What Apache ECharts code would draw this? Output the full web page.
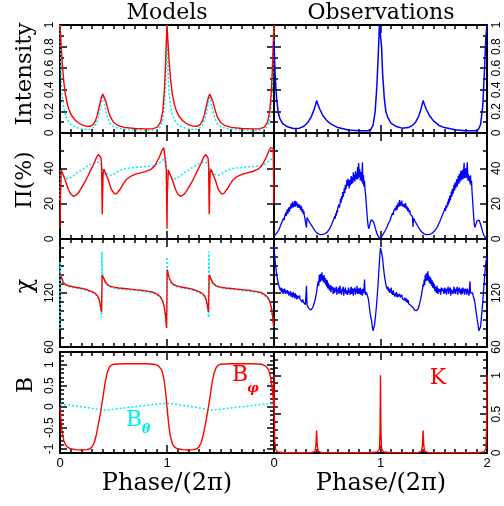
<!DOCTYPE html>
<html><head><meta charset="utf-8">
<script src="https://cdn.jsdelivr.net/npm/echarts@6/dist/echarts.min.js"></script>
<style>html,body{margin:0;padding:0;background:#fff}#c{width:504px;height:506px}</style>
</head><body><div id="c"></div><script>
// ---------------- DATA ----------------
// Model intensity (phase, I)
const intModelRed = [[0,1.0],[0.01,0.83],[0.02,0.66],[0.035,0.48],[0.05,0.36],[0.07,0.26],[0.09,0.2],[0.11,0.16],[0.14,0.12],[0.17,0.095],[0.2,0.077],[0.24,0.064],[0.28,0.062],[0.31,0.077],[0.33,0.11],[0.35,0.17],[0.37,0.26],[0.39,0.34],[0.40,0.36],[0.41,0.35],[0.43,0.29],[0.45,0.21],[0.47,0.15],[0.5,0.1],[0.54,0.07],[0.6,0.052],[0.7,0.042],[0.8,0.038],[0.87,0.04],[0.91,0.055],[0.94,0.1],[0.96,0.2],[0.975,0.38],[0.985,0.6],[0.995,0.88],[1.0,1.0],
[1.01,0.83],[1.02,0.66],[1.035,0.48],[1.05,0.36],[1.07,0.26],[1.09,0.2],[1.11,0.16],[1.14,0.12],[1.17,0.095],[1.2,0.077],[1.24,0.064],[1.28,0.062],[1.31,0.077],[1.33,0.11],[1.35,0.17],[1.37,0.26],[1.39,0.34],[1.40,0.36],[1.41,0.35],[1.43,0.29],[1.45,0.21],[1.47,0.15],[1.5,0.1],[1.54,0.07],[1.6,0.052],[1.7,0.042],[1.8,0.038],[1.87,0.04],[1.91,0.055],[1.94,0.1],[1.96,0.2],[1.975,0.38],[1.985,0.6],[1.995,0.88],[2.0,1.0]];
const intModelCyan = [[0,1.0],[0.005,0.75],[0.012,0.5],[0.02,0.36],[0.035,0.24],[0.05,0.17],[0.07,0.12],[0.1,0.08],[0.14,0.055],[0.2,0.037],[0.26,0.03],[0.3,0.04],[0.33,0.07],[0.355,0.13],[0.375,0.22],[0.39,0.3],[0.4,0.33],[0.41,0.3],[0.425,0.22],[0.445,0.14],[0.47,0.085],[0.5,0.06],[0.55,0.042],[0.65,0.03],[0.8,0.022],[0.9,0.028],[0.94,0.06],[0.96,0.12],[0.975,0.25],[0.988,0.5],[0.995,0.75],[1.0,1.0],
[1.005,0.75],[1.012,0.5],[1.02,0.36],[1.035,0.24],[1.05,0.17],[1.07,0.12],[1.1,0.08],[1.14,0.055],[1.2,0.037],[1.26,0.03],[1.3,0.04],[1.33,0.07],[1.355,0.13],[1.375,0.22],[1.39,0.3],[1.4,0.33],[1.41,0.3],[1.425,0.22],[1.445,0.14],[1.47,0.085],[1.5,0.06],[1.55,0.042],[1.65,0.03],[1.8,0.022],[1.9,0.028],[1.94,0.06],[1.96,0.12],[1.975,0.25],[1.988,0.5],[1.995,0.75],[2.0,1.0]];
// Observed intensity
const intObs = [[0,0.85],[0.01,0.55],[0.025,0.31],[0.04,0.19],[0.056,0.13],[0.08,0.09],[0.12,0.06],[0.18,0.042],[0.24,0.045],[0.28,0.062],[0.32,0.1],[0.35,0.15],[0.37,0.2],[0.39,0.26],[0.4,0.3],[0.41,0.27],[0.43,0.22],[0.46,0.16],[0.5,0.11],[0.54,0.08],[0.6,0.05],[0.7,0.028],[0.8,0.02],[0.88,0.02],[0.91,0.035],[0.93,0.07],[0.95,0.2],[0.965,0.42],[0.978,0.7],[0.99,1.0],[1.0,1.0],[1.01,0.8],[1.02,0.55],[1.035,0.33],[1.05,0.2],[1.07,0.14],[1.1,0.09],[1.15,0.06],[1.2,0.045],[1.26,0.05],[1.3,0.07],[1.33,0.1],[1.36,0.16],[1.38,0.22],[1.4,0.3],[1.41,0.27],[1.43,0.22],[1.46,0.16],[1.5,0.11],[1.55,0.07],[1.6,0.05],[1.7,0.03],[1.8,0.02],[1.9,0.02],[1.92,0.035],[1.94,0.08],[1.96,0.25],[1.975,0.55],[1.99,0.9],[2.0,1.0]];
// Model polarization degree (%)
const polModelRed = [[0,6],[0.005,25],[0.012,39],[0.02,38],[0.047,33.7],[0.078,28],[0.1,25.5],[0.125,24.2],[0.15,24.8],[0.17,26],[0.2,29],[0.23,32],[0.26,35.5],[0.29,39.4],[0.32,43],[0.34,46],[0.36,47.8],[0.372,48],[0.383,46],[0.389,42],[0.392,25],[0.395,14],[0.398,25],[0.403,37],[0.41,39.5],[0.42,38],[0.45,33.7],[0.48,28],[0.51,25.5],[0.53,25.7],[0.56,28],[0.59,31],[0.62,33.7],[0.66,35.5],[0.7,36.6],[0.75,37.4],[0.79,38],[0.85,39.4],[0.88,41],[0.9,43],[0.93,46.5],[0.95,49.7],[0.97,51.8],[0.98,52.5],[0.988,51],[0.993,40],[0.997,20],[1.0,6],
[1.003,25],[1.012,39],[1.02,38],[1.05,33.5],[1.08,28],[1.1,25.5],[1.125,24.2],[1.15,24.8],[1.17,26],[1.2,29],[1.23,32],[1.26,35.5],[1.29,39.4],[1.32,43],[1.34,46],[1.36,47.8],[1.372,48],[1.383,46],[1.389,42],[1.392,25],[1.395,14],[1.398,25],[1.403,37],[1.41,39.5],[1.42,38],[1.45,33.7],[1.48,28],[1.51,25.5],[1.53,25.7],[1.56,28],[1.59,31],[1.62,33.7],[1.66,35.5],[1.7,36.6],[1.75,37.4],[1.8,38.2],[1.85,39.5],[1.88,41],[1.9,43],[1.93,46.5],[1.95,49.7],[1.97,51.8],[1.985,52.8],[1.993,51],[2.0,20]];
const polModelCyan = [[0,22],[0.006,39],[0.02,37],[0.05,34.5],[0.08,34],[0.12,35.5],[0.16,37.5],[0.2,39],[0.25,41],[0.3,42.8],[0.35,43.5],[0.38,43],[0.389,41],[0.393,33],[0.397,40],[0.41,39.2],[0.44,37],[0.47,36],[0.5,36.5],[0.55,38.5],[0.6,39.8],[0.7,40.5],[0.8,41],[0.88,41.5],[0.93,43],[0.97,45],[0.99,46],[0.997,40],[1.0,30],
[1.006,39],[1.02,37],[1.05,34.5],[1.08,34],[1.12,35.5],[1.16,37.5],[1.2,39],[1.25,41],[1.3,42.8],[1.35,43.5],[1.38,43],[1.389,41],[1.393,33],[1.397,40],[1.41,39.2],[1.44,37],[1.47,36],[1.5,36.5],[1.55,38.5],[1.6,39.8],[1.7,40.5],[1.8,41],[1.88,41.5],[1.93,43],[1.97,45],[2.0,46]];
// Model polarization angle chi (deg)
const paModelRed = [[0,142],[0.005,140],[0.015,137],[0.03,132],[0.05,129.5],[0.08,128],[0.12,127],[0.17,125.9],[0.22,124.8],[0.26,123.3],[0.3,121.5],[0.33,119.6],[0.35,117],[0.365,113],[0.375,108],[0.383,102],[0.388,99],[0.391,118],[0.394,140],[0.4,138.5],[0.41,136],[0.43,131],[0.46,128],[0.5,126.5],[0.55,125.5],[0.6,125],[0.66,124.3],[0.72,123.5],[0.78,122.7],[0.84,121.5],[0.88,120.5],[0.91,118.5],[0.94,115.5],[0.96,111],[0.975,104],[0.987,94],[0.996,81],[0.999,110],
[1.002,146],[1.01,142],[1.02,137],[1.04,132],[1.06,129.5],[1.09,128],[1.12,127],[1.17,125.9],[1.22,124.8],[1.26,123.3],[1.3,121.5],[1.33,119.6],[1.35,117],[1.365,113],[1.375,108],[1.383,102],[1.388,99],[1.391,118],[1.394,140],[1.4,138.5],[1.41,136],[1.43,131],[1.46,128],[1.5,126.5],[1.55,125.5],[1.6,125],[1.66,124.3],[1.72,123.5],[1.78,122.7],[1.84,121.5],[1.88,120.5],[1.91,118.5],[1.94,115.5],[1.96,111],[1.975,104],[1.987,94],[1.996,83]];
const paModelCyan = [[0,80],[0.001,155],[0.006,142],[0.015,136],[0.03,131],[0.05,128.5],[0.08,127],[0.12,126],[0.17,125],[0.22,124],[0.26,122.5],[0.3,120.5],[0.33,118.5],[0.35,116],[0.365,112],[0.375,106],[0.383,99],[0.389,93],[0.391,166],[0.395,146],[0.4,140],[0.41,135],[0.43,130],[0.46,127],[0.5,125.5],[0.55,124.5],[0.6,124],[0.66,123.3],[0.72,122.5],[0.78,121.7],[0.84,120.5],[0.88,119.5],[0.91,117.5],[0.94,114.5],[0.96,110],[0.975,103],[0.987,92],[0.997,81],
[0.999,160],[1.004,148],[1.01,141],[1.02,136],[1.04,131],[1.06,128.5],[1.09,127],[1.12,126],[1.17,125],[1.22,124],[1.26,122.5],[1.3,120.5],[1.33,118.5],[1.35,116],[1.365,112],[1.375,106],[1.383,99],[1.389,93],[1.391,166],[1.395,146],[1.4,140],[1.41,135],[1.43,130],[1.46,127],[1.5,125.5],[1.55,124.5],[1.6,124],[1.66,123.3],[1.72,122.5],[1.78,121.7],[1.84,120.5],[1.88,119.5],[1.91,117.5],[1.94,114.5],[1.96,110],[1.975,103],[1.987,92],[1.997,80]];
// Model magnetic field components
const bPhi = [[0,0],[0.01,-0.35],[0.02,-0.6],[0.035,-0.8],[0.05,-0.9],[0.07,-0.96],[0.1,-1.0],[0.15,-1.02],[0.2,-1.03],[0.25,-1.02],[0.28,-1.0],[0.3,-0.95],[0.32,-0.85],[0.34,-0.66],[0.36,-0.4],[0.38,-0.12],[0.4,0.2],[0.42,0.55],[0.44,0.8],[0.46,0.93],[0.48,0.99],[0.5,1.01],[0.6,1.02],[0.7,1.02],[0.8,1.02],[0.88,1.01],[0.92,0.97],[0.95,0.88],[0.97,0.68],[0.985,0.4],[1.0,0],
[1.015,-0.4],[1.03,-0.68],[1.05,-0.88],[1.07,-0.96],[1.1,-1.0],[1.15,-1.02],[1.2,-1.03],[1.25,-1.02],[1.28,-1.0],[1.3,-0.95],[1.32,-0.85],[1.34,-0.66],[1.36,-0.4],[1.38,-0.12],[1.4,0.2],[1.42,0.55],[1.44,0.8],[1.46,0.93],[1.48,0.99],[1.5,1.01],[1.6,1.02],[1.7,1.02],[1.8,1.02],[1.88,1.01],[1.92,0.97],[1.95,0.88],[1.97,0.68],[1.985,0.4],[2.0,0]];
const bTheta = [[0,0.06],[0.1,0.03],[0.2,0.0],[0.3,-0.04],[0.38,-0.07],[0.42,-0.08],[0.5,-0.06],[0.6,-0.03],[0.7,0.0],[0.8,0.03],[0.9,0.06],[1.0,0.08],[1.1,0.05],[1.2,0.01],[1.3,-0.03],[1.38,-0.07],[1.42,-0.08],[1.5,-0.06],[1.6,-0.03],[1.7,0.0],[1.8,0.03],[1.9,0.06],[2.0,0.07]];
const kModel = [[0,1.0],[0.003,0.45],[0.007,0.15],[0.015,0.05],[0.03,0.015],[0.1,0.004],[0.35,0.005],[0.385,0.02],[0.394,0.1],[0.4,0.29],[0.406,0.1],[0.415,0.02],[0.45,0.005],[0.9,0.004],[0.97,0.015],[0.99,0.05],[0.996,0.3],[1.0,1.0],[1.004,0.3],[1.01,0.05],[1.03,0.015],[1.1,0.005],[1.35,0.005],[1.385,0.02],[1.394,0.1],[1.4,0.29],[1.406,0.1],[1.415,0.02],[1.45,0.005],[1.9,0.004],[1.97,0.015],[1.99,0.05],[1.996,0.3],[2.0,1.0]];
// Observed traces, sampled every 0.005 in phase (each row = 0.1 in phase)
const obsPhaseStep = 0.005;
const polObs = [
1.5,1.9,1.8,2.6,2.5,3.3,3.2,4.4,4.0,5.1,5.0,6.6,6.1,7.4,8.9,8.1,9.6,9.3,11.9,10.7,
12.6,11.8,14.9,13.1,15.3,16.8,14.2,16.6,17.9,15.5,18.2,17.0,20.1,17.4,19.3,21.2,17.9,20.4,18.5,21.6,
18.3,21.4,19.0,20.6,17.8,19.9,20.7,17.6,19.4,18.6,16.3,18.8,17.1,15.2,16.9,14.1,15.8,13.2,14.0,12.3,
13.0,6.5,12.2,11.3,11.0,10.4,10.0,9.3,9.1,8.4,8.0,7.4,7.0,6.5,6.0,5.6,5.0,4.7,4.4,4.0,
3.6,3.4,3.2,3.0,2.8,2.7,2.6,2.5,2.5,2.4,2.5,2.5,2.6,2.7,2.8,2.9,3.1,3.2,3.4,3.6,
3.9,4.0,4.7,4.8,5.6,5.5,6.8,6.6,8.1,7.7,9.6,8.9,11.0,10.3,12.9,11.5,14.6,13.2,16.3,14.9,
17.9,17.0,19.6,17.8,20.1,22.9,20.5,24.3,22.4,26.6,23.9,25.8,28.9,26.0,30.7,28.1,29.9,33.4,30.0,34.1,
32.1,28.6,33.4,30.2,29.8,35.6,31.0,34.9,31.7,37.8,33.1,36.2,32.5,38.4,34.0,37.1,33.6,40.8,34.2,43.0,
35.0,39.6,33.1,37.9,36.5,32.4,43.5,31.0,36.2,29.4,33.0,28.0,25.0,21.0,17.0,13.0,9.5,7.0,5.8,6.5,
8.0,9.5,10.5,11.0,11.3,11.0,10.4,9.6,8.7,7.6,6.5,5.4,4.4,3.4,2.6,1.9,1.3,0.8,0.5,0.5,
0.5,0.8,1.3,1.9,2.1,2.8,3.0,3.9,3.9,4.8,5.2,5.6,6.6,7.0,7.6,8.9,8.8,9.9,10.4,11.6,
11.9,13.5,12.7,14.8,13.6,16.1,15.0,15.4,17.6,16.0,19.0,16.6,17.9,20.5,18.1,19.0,22.0,18.6,20.9,19.2,
21.7,18.4,19.6,20.5,18.2,19.8,17.5,20.3,18.8,16.9,18.4,15.8,17.6,16.3,14.9,16.2,14.0,15.1,13.6,13.2,
12.8,6.8,11.8,10.9,10.8,9.9,9.6,8.9,8.4,7.8,7.3,6.8,6.2,5.8,5.3,4.9,4.4,4.1,3.8,3.5,
3.2,3.0,2.9,2.7,2.6,2.5,2.5,2.4,2.4,2.4,2.5,2.5,2.6,2.7,2.8,3.0,3.1,3.3,3.5,3.7,
3.9,4.3,4.5,5.1,5.3,6.0,6.1,7.0,7.2,8.3,8.1,9.6,9.3,11.0,10.6,12.6,12.0,14.1,13.3,15.6,
15.0,17.4,15.9,19.0,17.3,18.6,21.1,19.0,22.8,20.4,24.6,21.9,23.7,26.8,23.9,28.4,25.6,27.2,30.7,27.4,
31.9,28.6,30.2,33.8,29.7,32.0,35.6,31.3,36.9,32.2,34.8,38.6,33.3,36.0,39.2,33.8,37.0,43.2,34.4,36.9,
40.0,34.6,37.5,43.4,33.2,36.8,32.9,35.5,31.4,36.0,30.5,33.0,26.0,22.0,17.0,12.5,9.0,6.5,6.0,7.5,
9.0,10.2,10.8,11.2,11.0,10.7,10.0,9.2,8.3,7.2,6.0,4.9,3.9,3.0,2.2,1.6,1.1,0.8,0.6,0.9,
1.3];
const paObs = [
172,164,157,150,146,141,137,134,131,129,126,128,123,126,121,125,122,119,124,121,
125,119,123,120,118,123,119,122,117,121,118,122,116,120,118,115,121,116,119,114,
120,115,118,113,117,114,116,112,117,113,115,111,114,110,113,110,112,108,111,107,
109,128,107,105,105,103,102.5,101.5,101,101,101.5,102,103,104,106,108,110,112,115,118,
121,126,124,133,128,140,132,141,133,137,143,134,139,132,140,131,137,129,135,127,
134,125,131,127,123,129,126,121,128,124,127,119,123,126,120,125,122,127,118,124,
121,126,119,124,128,120,123,118,125,122,127,117,124,121,126,119,123,125,118,122,
126,120,123,118,124,127,119,122,125,117,123,121,126,118,124,120,128,119,122,125,
119,123,126,118,121,124,117,125,120,123,135,121,118,121,120,118,117,114,110,105,
100,96,93,90,86,81,78,77,80,85,91,97,103,110,118,126,135,145,155,163,
170,168,165,162,158,152,146,141,137,133,130,127,129,124,127,122,125,120,124,121,
126,119,122,118,123,119,121,116,120,117,121,115,119,116,118,114,119,115,117,113,
118,114,116,112,116,112,115,111,114,110,113,109,112,108,110,107,109,106,108,105,
107,104,103,102,101,100.5,100,100,100.5,101,102,103,105,107,109,112,115,118,122,125,
130,127,135,129,140,133,142,134,138,144,133,139,131,138,130,136,128,134,126,132,
125,130,122,127,124,120,128,123,119,125,127,121,124,118,126,122,120,125,127,119,
123,126,120,124,118,125,122,127,119,123,121,126,117,124,122,125,119,123,127,120,
124,119,125,122,127,118,123,121,126,120,124,118,125,122,119,126,121,124,118,125,
121,124,118,125,120,123,117,124,133,120,119,121,118,120,117,115,113,110,106,101,
97,93,89,85,81,78,77,79,83,89,96,103,110,118,126,134,142,149,154,158,
160];
// Tick label sets for row 4
const bMajorTicks = [-1,-0.5,0,0.5,1];
const kMajorTicks = [0,0.5,1];

// ---------------- LAYOUT ----------------
const BLACK='#000';
const SANS='"Liberation Sans", Arial, sans-serif';
const SERIF='"DejaVu Serif", serif';
const RED='#ff0000', CYAN='#00f0f0', BLUE='#0000ff';
const grids=[], xAxes=[], yAxes=[];
function halfFmt(v){
  const h=Math.round(v*2);
  if (Math.abs(v*2-h)>1e-6 || Math.abs(v)>1.0001) return '';
  return String(h/2);
}
function addPanel(p){
  const g=grids.length;
  grids.push({left:p.left, top:p.top, width:p.w, height:p.h, containLabel:false, show:false});
  const xi=xAxes.length;
  const xc = () => ({type:'value', gridIndex:g, min:0, max:2, interval:1,
    axisLine:{show:true,onZero:false,lineStyle:{color:BLACK,width:2}},
    axisTick:{show:true,inside:true,length:8,lineStyle:{color:BLACK,width:1.5}},
    minorTick:{show:true,splitNumber:10,length:4,lineStyle:{color:BLACK,width:1.5}},
    splitLine:{show:false}, minorSplitLine:{show:false}});
  xAxes.push(Object.assign(xc(), {position:'bottom', axisLabel:{show:!!p.xLabels, margin:4, color:BLACK, fontSize:13, fontFamily:SANS, showMinLabel:true, showMaxLabel:p.xLabels==='all'}}));
  xAxes.push(Object.assign(xc(), {position:'top', axisLabel:{show:false}}));
  const yi=yAxes.length;
  ['left','right'].forEach(side=>{
    const lab = {show:p.labelSide===side, rotate:90, margin:4, color:BLACK, fontSize:12, fontFamily:SANS, showMinLabel:true, showMaxLabel:p.y.showMax};
    if (p.y.fmt) lab.formatter=p.y.fmt;
    yAxes.push({type:'value', gridIndex:g, position:side, min:p.y.min, max:p.y.max, interval:p.y.interval,
      axisLine:{show:true,onZero:false,lineStyle:{color:BLACK,width:2}},
      axisTick:{show:true,inside:true,length:p.y.tickLen,lineStyle:{color:BLACK,width:1.5}},
      minorTick:{show:!!p.y.minor, splitNumber:p.y.minor||5, length:4, lineStyle:{color:BLACK,width:1.5}},
      splitLine:{show:false}, minorSplitLine:{show:false}, axisLabel:lab});
    if (p.y.major){
      yAxes.push({type:'value', gridIndex:g, position:side, offset:0, min:p.y.min, max:p.y.max,
        axisLine:{show:false,onZero:false}, axisLabel:{show:false}, splitLine:{show:false},
        axisTick:{show:true,inside:true,length:7,customValues:p.y.major,lineStyle:{color:BLACK,width:1.5}}});
    }
  });
  return {x:xi, y:yi};
}
const LX=60, LW=214, RX=274, RW=213;
const r1={min:0,max:1,interval:0.2,minor:2,tickLen:7,showMax:true};
const r2={min:0,max:60,interval:20,minor:2,tickLen:7,showMax:false};
const r3={min:60,max:180,interval:60,minor:6,tickLen:7,showMax:false};
const pL1=addPanel({left:LX,top:25,w:LW,h:108,y:r1,labelSide:'left'});
const pR1=addPanel({left:RX,top:25,w:RW,h:108,y:r1,labelSide:'right'});
const pL2=addPanel({left:LX,top:133,w:LW,h:106,y:r2,labelSide:'left'});
const pR2=addPanel({left:RX,top:133,w:RW,h:106,y:r2,labelSide:'right'});
const pL3=addPanel({left:LX,top:239,w:LW,h:108,y:r3,labelSide:'left'});
const pR3=addPanel({left:RX,top:239,w:RW,h:108,y:r3,labelSide:'right'});
const pL4=addPanel({left:LX,top:352,w:LW,h:101,y:{min:-1.1,max:1.3,interval:0.1,minor:0,tickLen:4,showMax:false,fmt:halfFmt,major:bMajorTicks},labelSide:'left',xLabels:'nomax'});
const pR4=addPanel({left:RX,top:352,w:RW,h:101,y:{min:0,max:1.3,interval:0.1,minor:0,tickLen:4,showMax:false,fmt:halfFmt,major:kMajorTicks},labelSide:'right',xLabels:'all'});

function line(p, data, color, width, dash){
  return {type:'line', xAxisIndex:p.x, yAxisIndex:p.y, data:data, showSymbol:false, symbol:'none',
    lineStyle:{color:color, width:width, type:dash||'solid'}, animation:false, silent:true, clip:true, z:dash?2:3};
}
const sampled = arr => arr.map((v,i)=>[i*obsPhaseStep, v]);
const DOT=[2,2];

function txt(x,y,s,font,fill,rot){
  return {type:'text', x:x, y:y, rotation:rot||0, silent:true,
    style:{text:s, font:font, fill:fill||BLACK, align:'center', verticalAlign:'middle', textAlign:'center', textVerticalAlign:'middle'}};
}
const R90=Math.PI/2;
const option={
  animation:false,
  backgroundColor:'#fff',
  grid:grids, xAxis:xAxes, yAxis:yAxes,
  series:[
    line(pL1,intModelCyan,CYAN,1.5,DOT), line(pL1,intModelRed,RED,1.4),
    line(pR1,intObs,BLUE,1.5),
    line(pL2,polModelCyan,CYAN,1.5,DOT), line(pL2,polModelRed,RED,1.4),
    line(pR2,sampled(polObs),BLUE,1.3),
    line(pL3,paModelCyan,CYAN,1.5,DOT), line(pL3,paModelRed,RED,1.4),
    line(pR3,sampled(paObs),BLUE,1.3),
    line(pL4,bTheta,CYAN,1.5,DOT), line(pL4,bPhi,RED,1.4),
    line(pR4,kModel,RED,1.4)
  ],
  graphic:[
    txt(167,13,'Models','22px '+SERIF),
    txt(381,13,'Observations','22px '+SERIF),
    txt(25,74,'Intensity','23px '+SERIF,BLACK,R90),
    txt(25,180,'Π(%)','22px '+SERIF,BLACK,R90),
    txt(26,286,'χ','24px '+SERIF,BLACK,R90),
    txt(26,385,'B','22px '+SERIF,BLACK,R90),
    txt(167,484,'Phase/(2π)','24px '+SERIF),
    txt(381,484,'Phase/(2π)','24px '+SERIF),
    txt(240,375,'B','22px '+SERIF,RED),
    txt(253,389,'φ','italic bold 13px '+SERIF,RED),
    txt(134,420,'B','22px '+SERIF,CYAN),
    txt(146,430,'θ','italic bold 13px '+SERIF,CYAN),
    txt(438,378,'K','22px '+SERIF,RED)
  ]
};
const chart=echarts.init(document.getElementById('c'),null,{renderer:'canvas'});
chart.setOption(option);
</script></body></html>
